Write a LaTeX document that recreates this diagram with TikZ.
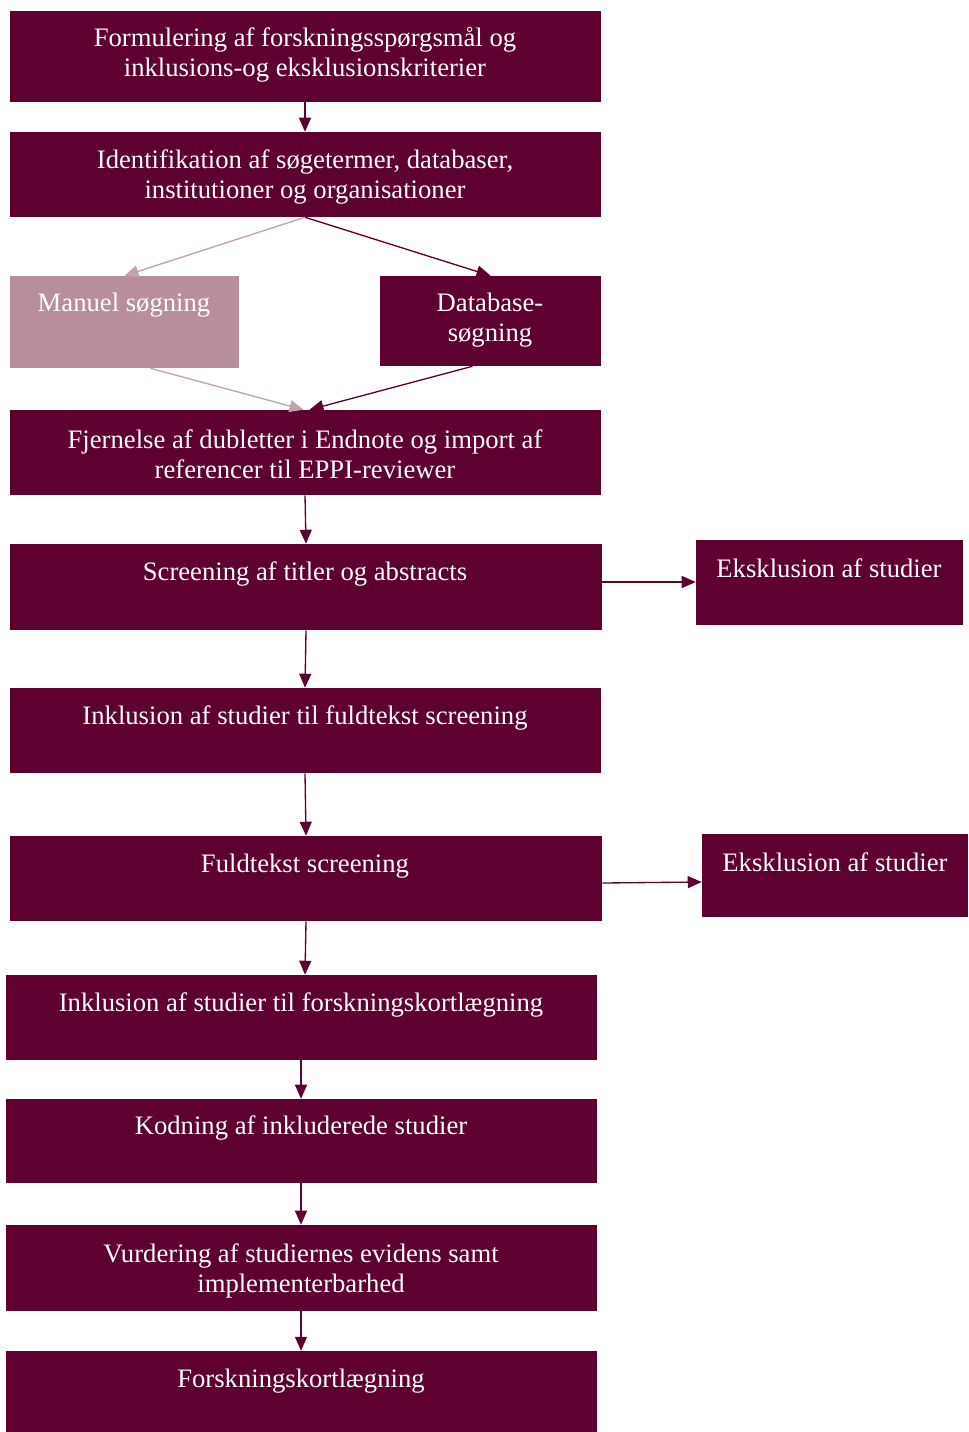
\documentclass[tikz,border=0pt]{standalone}
\usepackage{fontspec}
\setmainfont{Liberation Serif}
\usetikzlibrary{arrows.meta,fit,calc}
\definecolor{maroon}{HTML}{5E0030}
\definecolor{rose}{HTML}{B78E99}
\definecolor{roseline}{HTML}{C4A2AC}
\begin{document}
\begin{tikzpicture}[x=0.75pt,y=-0.75pt,
  box/.style={fill=maroon,draw=none,inner sep=0pt},
  lightbox/.style={fill=rose,draw=none,inner sep=0pt},
  lbl/.style={text=white,align=center,font=\fontsize{20}{22.5}\selectfont,inner sep=0pt},
  arr/.style={draw=maroon,line width=1pt,-{Triangle[length=10.5pt,width=9pt]}},
  lightarr/.style={draw=roseline,line width=1pt,-{Triangle[length=10.5pt,width=9pt]}}]
\useasboundingbox (0,0) rectangle (968,1432);
% boxes
\node[box,fit={(10,11) (601,102)}] (b1) {};
\node[box,fit={(10,132) (601,217)}] (b2) {};
\node[lightbox,fit={(10,276) (239,368)}] (man) {};
\node[box,fit={(380,276) (601,366)}] (db) {};
\node[box,fit={(10,410) (601,495)}] (b5) {};
\node[box,fit={(10,544) (602,630)}] (b6) {};
\node[box,fit={(696,540) (963,625)}] (ex1) {};
\node[box,fit={(10,688) (601,773)}] (b8) {};
\node[box,fit={(10,836) (602,921)}] (b9) {};
\node[box,fit={(702,834) (968,917)}] (ex2) {};
\node[box,fit={(6,975) (597,1060)}] (b11) {};
\node[box,fit={(6,1099) (597,1183)}] (b12) {};
\node[box,fit={(6,1225) (597,1311)}] (b13) {};
\node[box,fit={(6,1351) (597,1432)}] (b14) {};
% labels
\node[lbl] (t1) at (305,55) {Formulering af forskningsspørgsmål og\\inklusions-og eksklusionskriterier};
\node[lbl] (t2) at (305,176.5) {Identifikation af søgetermer, databaser,\\institutioner og organisationer};
\node[lbl] (tman) at (124,305.5) {Manuel søgning};
\node[lbl] (tdb) at (490,320.5) {Database-\\søgning};
\node[lbl] (t5) at (305,454.5) {Fjernelse af dubletter i Endnote og import af\\referencer til EPPI-reviewer};
\node[lbl] (t6) at (305,574) {Screening af titler og abstracts};
\node[lbl] (tex1) at (829,568) {Eksklusion af studier};
\node[lbl] (t8) at (305,718) {Inklusion af studier til fuldtekst screening};
\node[lbl] (t9) at (305,866) {Fuldtekst screening};
\node[lbl] (tex2) at (835,862) {Eksklusion af studier};
\node[lbl] (t11) at (301,1005) {Inklusion af studier til forskningskortlægning};
\node[lbl] (t12) at (301,1128) {Kodning af inkluderede studier};
\node[lbl] (t13) at (301,1270.5) {Vurdering af studiernes evidens samt\\implementerbarhed};
\node[lbl] (t14) at (301,1381) {Forskningskortlægning};
% connectors
\draw[arr] (b1.south -| 305,0) -- (b2.north -| 305,0);
\draw[lightarr] (b2.south -| 305,0) -- (man.north);
\draw[arr] (b2.south -| 305,0) -- (db.north);
\draw[lightarr] ($(man.south)+(26,0)$) -- ($(b5.north)+(-2,0)$);
\draw[arr] ($(db.south)+(-18,0)$) -- ($(b5.north)+(4,0)$);
\draw[arr] (b5.south -| 305,0) -- (b6.north -| 306,0);
\draw[arr] (b6.east |- 0,582) -- (ex1.west |- 0,582);
\draw[arr] (b6.south -| 306,0) -- (b8.north -| 305,0);
\draw[arr] (b8.south -| 305,0) -- (b9.north -| 306,0);
\draw[arr] (b9.east |- 0,883) -- (ex2.west |- 0,882);
\draw[arr] (b9.south -| 306,0) -- (b11.north -| 305,0);
\draw[arr] (b11.south -| 301,0) -- (b12.north -| 301,0);
\draw[arr] (b12.south -| 301,0) -- (b13.north -| 301,0);
\draw[arr] (b13.south -| 301,0) -- (b14.north -| 301,0);
\end{tikzpicture}
\end{document}
